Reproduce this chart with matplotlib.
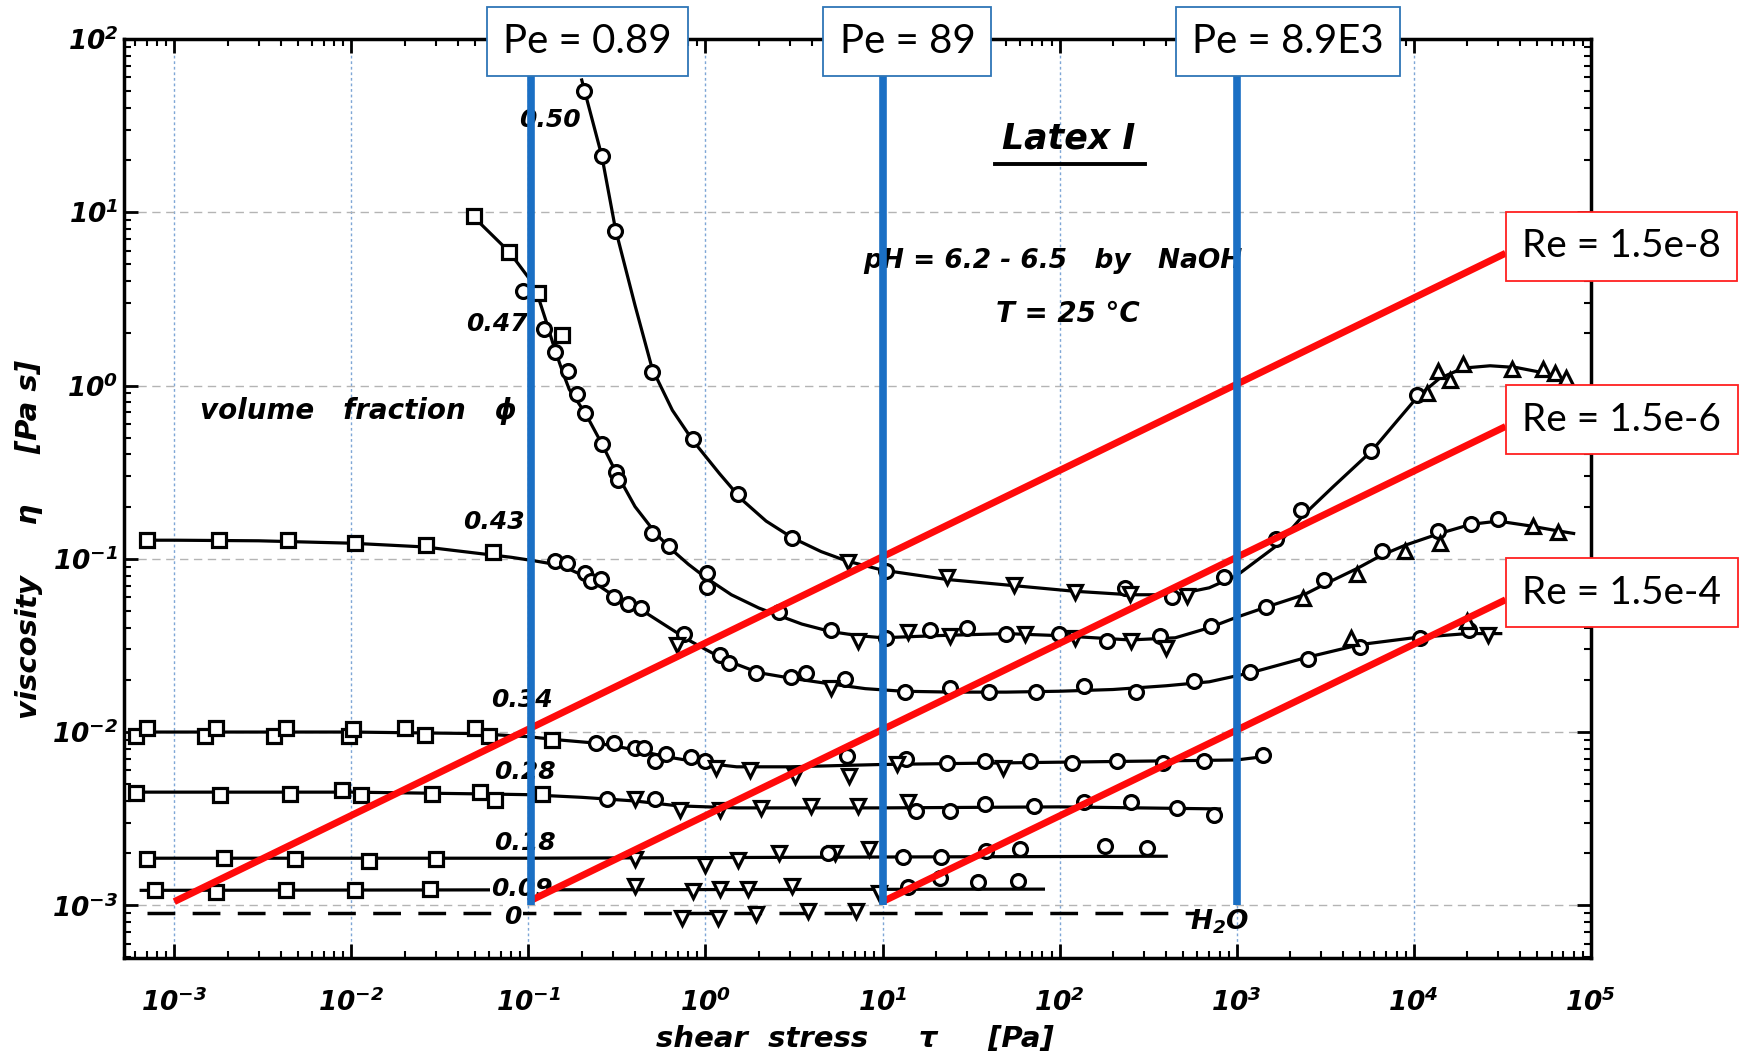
import math
import matplotlib
matplotlib.use('Agg')
import matplotlib.pyplot as plt
from matplotlib.ticker import FixedLocator, FuncFormatter, LogLocator, NullFormatter

# scanned-plot look: bold oblique sans for everything drawn by the original figure
plt.rcParams['mathtext.fontset'] = 'custom'
plt.rcParams['mathtext.rm'] = 'DejaVu Sans:italic:bold'
plt.rcParams['mathtext.it'] = 'DejaVu Sans:italic:bold'
plt.rcParams['mathtext.bf'] = 'DejaVu Sans:italic:bold'

#####################
# viscosity curves, (shear stress [Pa], viscosity [Pa s])
phi050_line = [(0.20, 58), (0.26, 21), (0.31, 8.0), (0.40, 2.9), (0.50, 1.25), (0.65, 0.72),
               (0.85, 0.48), (1.2, 0.31), (1.6, 0.22), (2.2, 0.165), (3.1, 0.132), (4.5, 0.11),
               (6.3, 0.097), (10, 0.086), (23, 0.076), (55, 0.07), (120, 0.065), (250, 0.062),
               (450, 0.062), (700, 0.068), (1000, 0.08), (1700, 0.12), (2400, 0.18), (3500, 0.26),
               (5800, 0.42), (8000, 0.62), (10500, 0.86), (14000, 1.1), (19000, 1.26),
               (27000, 1.3), (38000, 1.27), (55000, 1.18), (75000, 1.05)]
phi050_o = [(0.207, 50), (0.26, 21), (0.31, 7.8), (0.50, 1.2), (0.85, 0.49), (1.52, 0.235),
            (3.1, 0.132), (10.5, 0.085), (233, 0.068), (430, 0.06), (850, 0.078), (1670, 0.13),
            (2310, 0.19), (5770, 0.42), (10500, 0.88)]
phi050_v = [(6.4, 0.096), (23, 0.078), (55, 0.071), (122, 0.064), (250, 0.063), (525, 0.061)]
phi050_up = [(11900, 0.9), (13700, 1.22), (16100, 1.08), (18900, 1.33), (36000, 1.24),
             (54000, 1.25), (63000, 1.18), (72000, 1.1)]

phi047_line = [(0.048, 9.6), (0.078, 5.9), (0.10, 4.2), (0.113, 3.3), (0.125, 2.4), (0.14, 1.65),
               (0.155, 1.22), (0.17, 0.95), (0.21, 0.69), (0.26, 0.46), (0.31, 0.32), (0.40, 0.2),
               (0.53, 0.138), (0.65, 0.112), (0.8, 0.093), (1.0, 0.078), (1.4, 0.062), (2.0, 0.052),
               (2.6, 0.047), (3.5, 0.042), (5.1, 0.038), (7.3, 0.036), (10, 0.035), (20, 0.036),
               (50, 0.037), (100, 0.036), (250, 0.034), (450, 0.035), (700, 0.040), (1000, 0.046),
               (1500, 0.053), (2400, 0.062), (3200, 0.072), (4800, 0.088), (6600, 0.105),
               (9000, 0.12), (14000, 0.14), (21000, 0.158), (30000, 0.165), (45000, 0.155),
               (65000, 0.145), (80000, 0.14)]
phi047_s = [(0.049, 9.45), (0.078, 5.9), (0.113, 3.4), (0.155, 1.95)]
phi047_o = [(0.093, 3.5), (0.122, 2.13), (0.141, 1.56), (0.168, 1.22), (0.188, 0.89),
            (0.208, 0.69), (0.259, 0.457), (0.312, 0.316), (0.32, 0.285), (0.50, 0.141),
            (0.62, 0.118), (1.02, 0.083), (1.02, 0.069), (2.6, 0.049), (5.1, 0.0387),
            (10.4, 0.035), (18.6, 0.039), (29.8, 0.0396), (50, 0.037), (99, 0.037),
            (184, 0.0335), (370, 0.036), (716, 0.0407), (1460, 0.053), (3100, 0.075),
            (6600, 0.111), (13700, 0.145), (21000, 0.158), (29800, 0.17)]
phi047_v = [(7.3, 0.0335), (13.9, 0.0378), (24, 0.036), (64, 0.037), (122, 0.035),
            (253, 0.0335), (400, 0.0304)]
phi047_up = [(2370, 0.059), (4770, 0.082), (8900, 0.111), (14000, 0.124), (47200, 0.155),
             (65300, 0.142)]

phi043_line = [(6.5e-4, 0.128), (1e-3, 0.128), (3e-3, 0.127), (1e-2, 0.123), (2.6e-2, 0.117),
               (5e-2, 0.108), (0.08, 0.102), (0.11, 0.097), (0.14, 0.093), (0.17, 0.087),
               (0.21, 0.079), (0.26, 0.068), (0.32, 0.059), (0.43, 0.051), (0.6, 0.041),
               (0.8, 0.034), (1.0, 0.030), (1.3, 0.026), (2.0, 0.022), (3.0, 0.0205), (5, 0.019),
               (8, 0.0178), (13, 0.0172), (25, 0.017), (50, 0.017), (100, 0.0172), (200, 0.0176),
               (400, 0.0185), (700, 0.0195), (1200, 0.022), (2500, 0.027), (5000, 0.032),
               (10000, 0.035), (20000, 0.037), (31000, 0.037)]
phi043_s = [(7.0e-4, 0.129), (1.78e-3, 0.129), (4.38e-3, 0.129), (1.05e-2, 0.124),
            (2.63e-2, 0.12), (6.3e-2, 0.11)]
phi043_o = [(0.142, 0.097), (0.165, 0.094), (0.208, 0.083), (0.227, 0.074), (0.256, 0.076),
            (0.305, 0.06), (0.364, 0.055), (0.43, 0.052), (0.76, 0.037), (1.2, 0.0277),
            (1.36, 0.025), (1.94, 0.0218), (3.03, 0.0207), (3.7, 0.0218), (6.1, 0.0202),
            (13.4, 0.0171), (24, 0.0179), (40, 0.0171), (74, 0.0171), (137, 0.0184),
            (270, 0.0171), (575, 0.0198), (1190, 0.0221), (2530, 0.0265), (4950, 0.031),
            (10800, 0.0348), (20500, 0.039)]
phi043_v = [(0.69, 0.0319), (5.1, 0.0179), (26100, 0.0364)]
phi043_up = [(4450, 0.0348), (20000, 0.0436)]

phi034_line = [(6e-4, 0.0100), (1e-2, 0.0100), (5e-2, 0.0098), (0.1, 0.0094), (0.15, 0.0090),
               (0.25, 0.0086), (0.4, 0.0079), (0.6, 0.0072), (1.0, 0.0066), (1.5, 0.0063),
               (3, 0.0063), (10, 0.0065), (100, 0.0067), (1000, 0.0069), (1400, 0.0072)]
phi034_s = [(6.06e-4, 9.45e-3), (6.97e-4, 1.06e-2), (1.49e-3, 9.45e-3), (1.73e-3, 1.06e-2),
            (3.67e-3, 9.45e-3), (4.27e-3, 1.06e-2), (9.7e-3, 9.45e-3), (1.02e-2, 1.04e-2),
            (2.0e-2, 1.06e-2), (2.59e-2, 9.6e-3), (4.97e-2, 1.06e-2), (6.0e-2, 9.45e-3),
            (0.135, 9.0e-3)]
phi034_o = [(0.24, 8.7e-3), (0.305, 8.6e-3), (0.40, 8.06e-3), (0.447, 8.06e-3), (0.517, 6.8e-3),
            (0.60, 7.5e-3), (0.83, 7.15e-3), (0.99, 6.8e-3), (6.3, 7.3e-3), (13.5, 7.0e-3),
            (23, 6.65e-3), (38, 6.8e-3), (68, 6.8e-3), (118, 6.65e-3), (212, 6.8e-3),
            (383, 6.65e-3), (650, 6.8e-3), (1400, 7.4e-3)]
phi034_v = [(1.15, 6.2e-3), (1.78, 6.04e-3), (3.2, 5.6e-3), (6.5, 5.6e-3), (12, 6.5e-3),
            (48, 6.2e-3)]

phi028_line = [(6e-4, 4.5e-3), (1e-2, 4.5e-3), (5e-2, 4.4e-3), (0.1, 4.35e-3), (0.2, 4.2e-3),
               (0.4, 4.0e-3), (0.7, 3.75e-3), (1.5, 3.65e-3), (10, 3.65e-3), (100, 3.7e-3),
               (800, 3.6e-3)]
phi028_s = [(6.06e-4, 4.46e-3), (1.82e-3, 4.33e-3), (4.49e-3, 4.4e-3), (8.8e-3, 4.6e-3),
            (1.13e-2, 4.33e-3), (2.85e-2, 4.4e-3), (5.34e-2, 4.5e-3), (6.5e-2, 4.05e-3),
            (0.119, 4.4e-3)]
phi028_o = [(0.279, 4.12e-3), (0.52, 4.12e-3), (15.5, 3.48e-3), (24, 3.48e-3), (38, 3.83e-3),
            (72, 3.74e-3), (137, 3.93e-3), (254, 3.93e-3), (458, 3.65e-3), (748, 3.34e-3)]
phi028_v = [(0.40, 4.12e-3), (0.716, 3.56e-3), (1.21, 3.56e-3), (2.06, 3.65e-3),
            (3.93, 3.74e-3), (7.3, 3.74e-3), (13.9, 3.93e-3)]

phi018_line = [(6.5e-4, 1.87e-3), (0.1, 1.87e-3), (10, 1.9e-3), (400, 1.92e-3)]
phi018_s = [(7e-4, 1.85e-3), (1.9e-3, 1.87e-3), (4.8e-3, 1.85e-3), (1.25e-2, 1.8e-3),
            (3.0e-2, 1.86e-3)]
phi018_v = [(0.40, 1.86e-3), (0.99, 1.7e-3), (1.53, 1.82e-3), (2.6, 2.0e-3), (5.4, 2.0e-3),
            (8.4, 2.1e-3)]
phi018_o = [(4.9, 2.0e-3), (13, 1.91e-3), (21.5, 1.9e-3), (38.6, 2.05e-3), (60, 2.1e-3),
            (180, 2.2e-3), (310, 2.15e-3)]

phi009_line = [(6.5e-4, 1.22e-3), (81, 1.24e-3)]
phi009_s = [(7.8e-4, 1.22e-3), (1.73e-3, 1.2e-3), (4.27e-3, 1.22e-3), (1.05e-2, 1.22e-3),
            (2.78e-2, 1.24e-3)]
phi009_v = [(0.40, 1.3e-3), (0.85, 1.21e-3), (1.21, 1.24e-3), (1.73, 1.24e-3), (3.1, 1.3e-3),
            (9.5, 1.18e-3)]
phi009_o = [(13.9, 1.27e-3), (21, 1.43e-3), (34.5, 1.36e-3), (58, 1.39e-3)]

water_line = [(7e-4, 0.9e-3), (600, 0.9e-3)]
water_v = [(0.74, 0.85e-3), (1.18, 0.85e-3), (1.94, 0.89e-3), (3.8, 0.93e-3), (7.1, 0.93e-3)]

# curve labels (volume fraction)
phi_labels = ['0.50', '0.47', '0.43', '0.34', '0.28', '0.18', '0.09', '0']
phi_label_x = [0.133, 0.066, 0.064, 0.092, 0.096, 0.096, 0.092, 0.082]
phi_label_y = [34, 2.25, 0.163, 0.0153, 5.9e-3, 2.3e-3, 1.24e-3, 0.86e-3]

# Peclet markers (vertical) and Reynolds lines
pe_x = [0.104, 10.1, 1010]
pe_labels = ['Pe = 0.89', 'Pe = 89', 'Pe = 8.9E3']
re_x0 = [1e-3, 1e-1, 1e1]
re_y0 = [1.05e-3, 1.05e-3, 1.05e-3]
re_x1 = [3.3e4, 3.3e4, 3.3e4]
re_y1 = [5.8, 0.58, 0.058]
re_labels = ['Re = 1.5e-8', 'Re = 1.5e-6', 'Re = 1.5e-4']
#####################

fig = plt.figure(figsize=(17.42, 10.62), dpi=100)
ax = fig.add_axes([0.0712, 0.098, 0.842, 0.8653])
ax.set_xscale('log')
ax.set_yscale('log')
ax.set_xlim(5.2e-4, 1e5)
ax.set_ylim(4.97e-4, 100)

# grid: dotted blue verticals, dashed grey horizontals
for d in range(-3, 5):
    ax.axvline(10.0 ** d, color='#7ea6d6', lw=1.0, ls=(0, (2, 2)), zorder=1)
for d in range(-3, 2):
    ax.axhline(10.0 ** d, color='#b4b4b4', lw=1.0, ls=(0, (6, 4)), zorder=1)

black = dict(color='black', lw=2.3, zorder=3)
mk = dict(ls='none', ms=10, mfc='white', mec='black', mew=2.3, zorder=4)

curves = [
    (phi050_line, [('o', phi050_o), ('v', phi050_v), ('^', phi050_up)]),
    (phi047_line, [('s', phi047_s), ('o', phi047_o), ('v', phi047_v), ('^', phi047_up)]),
    (phi043_line, [('s', phi043_s), ('o', phi043_o), ('v', phi043_v), ('^', phi043_up)]),
    (phi034_line, [('s', phi034_s), ('o', phi034_o), ('v', phi034_v)]),
    (phi028_line, [('s', phi028_s), ('o', phi028_o), ('v', phi028_v)]),
    (phi018_line, [('s', phi018_s), ('v', phi018_v), ('o', phi018_o)]),
    (phi009_line, [('s', phi009_s), ('v', phi009_v), ('o', phi009_o)]),
]
for line, groups in curves:
    ax.plot([p[0] for p in line], [p[1] for p in line], **black)
    for m, pts in groups:
        ax.plot([p[0] for p in pts], [p[1] for p in pts], marker=m, **mk)

# water reference, dashed
ax.plot([p[0] for p in water_line], [p[1] for p in water_line], color='black', lw=2.5,
        ls=(0, (8, 5)), zorder=3)
ax.plot([p[0] for p in water_v], [p[1] for p in water_v], marker='v', **mk)

bi = dict(family='DejaVu Sans', style='italic', weight='bold')
for t, x, y in zip(phi_labels, phi_label_x, phi_label_y):
    ax.text(x, y, t, ha='center', va='center', fontsize=18, zorder=4,
            bbox=dict(boxstyle='square,pad=0.05', fc='white', ec='none'), **bi)
ax.text(800, 0.8e-3, r'H$_2$O', ha='center', va='center', fontsize=19, zorder=4, **bi)

ax.text(1.4e-3, 0.71, u'volume   fraction   \u03d5', ha='left', va='center', fontsize=20, **bi)
ax.text(113, 26.5, 'Latex I', ha='center', va='center', fontsize=25, **bi)
ax.plot([43, 302], [18.9, 18.9], color='black', lw=2.8)
ax.text(92, 5.2, 'pH = 6.2 - 6.5   by   NaOH', ha='center', va='center', fontsize=19, **bi)
ax.text(111, 2.6, u'T = 25 \u00b0C', ha='center', va='center', fontsize=20, **bi)

# Reynolds number lines
for x0, y0, x1, y1, t in zip(re_x0, re_y0, re_x1, re_y1, re_labels):
    ax.plot([x0, x1], [y0, y1], color='#ff0a0a', lw=5, solid_capstyle='butt', zorder=6)
    ax.annotate(t, xy=(x1, y1), xytext=(12, 5), textcoords='offset points',
                ha='left', va='center', fontsize=28, family='Lato', zorder=10,
                annotation_clip=False,
                bbox=dict(boxstyle='square,pad=0.42', fc='white', ec='#ff2020', lw=1.3))

# Peclet number lines, label boxes sit across the top frame
pe_dx = [-20.5, -31.5, -32.5]
for x, t, dx in zip(pe_x, pe_labels, pe_dx):
    ax.plot([x, x], [1e-3, 100], color='#1a6fc4', lw=5.5, solid_capstyle='butt', zorder=7)
    ax.annotate(t, xy=(x, 1.0), xycoords=('data', 'axes fraction'), xytext=(dx, -2),
                textcoords='offset points', ha='left', va='center', fontsize=29,
                family='Lato', zorder=10, annotation_clip=False,
                bbox=dict(boxstyle='square,pad=0.4', fc='white', ec='#2e75b6', lw=1.3))

# axes frame and ticks
for s in ax.spines.values():
    s.set_linewidth(2.5)
decade_fmt = FuncFormatter(lambda v, pos: r'$\mathit{10^{%d}}$' % round(math.log10(v)))
ax.xaxis.set_major_locator(FixedLocator([10.0 ** d for d in range(-3, 6)]))
ax.yaxis.set_major_locator(FixedLocator([10.0 ** d for d in range(-3, 3)]))
ax.xaxis.set_minor_locator(LogLocator(base=10, subs=range(2, 10), numticks=20))
ax.yaxis.set_minor_locator(LogLocator(base=10, subs=range(2, 10), numticks=20))
ax.xaxis.set_major_formatter(decade_fmt)
ax.yaxis.set_major_formatter(decade_fmt)
ax.xaxis.set_minor_formatter(NullFormatter())
ax.yaxis.set_minor_formatter(NullFormatter())
ax.tick_params(which='both', direction='in', top=True, right=True)
ax.tick_params(which='major', length=10, width=2, labelsize=19)
ax.tick_params(which='minor', length=5, width=1.5)
ax.tick_params(axis='x', which='major', pad=22)
ax.tick_params(axis='y', which='major', pad=4)

ax.set_xlabel(u'shear  stress     \u03c4     [Pa]', fontsize=21, **bi)
ax.set_ylabel(u'viscosity     \u03b7     [Pa s]', fontsize=21, **bi)
ax.xaxis.set_label_coords(0.498, -0.073)
ax.yaxis.set_label_coords(-0.055, 0.455)

plt.savefig('out.png', dpi=100)
